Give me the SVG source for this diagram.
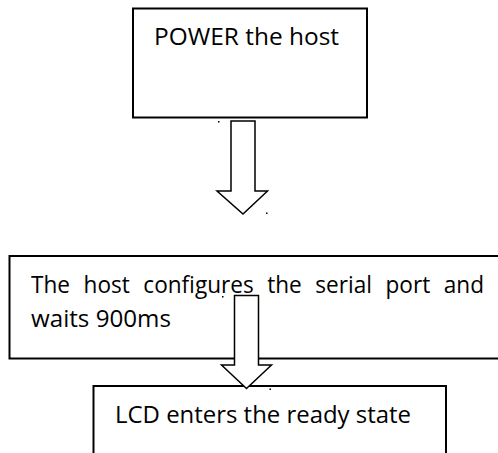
<svg xmlns="http://www.w3.org/2000/svg" width="498" height="453" viewBox="0 0 498 453">
<style>
.box{fill:#fff;stroke:#000;stroke-width:2}
.arr{fill:#fff;stroke:#000;stroke-width:1.5;stroke-linejoin:miter}
.t{font-family:"Open Sans","Liberation Sans",sans-serif;font-size:23.5px;fill:#000}
.dot{fill:#000}
</style>
<rect width="498" height="453" fill="#fff"/>
<g id="node-power">
<rect class="box" x="133" y="8.5" width="234" height="109"/>
<text class="t" x="154" y="45" textLength="185" lengthAdjust="spacingAndGlyphs">POWER the host</text>
</g>
<g id="node-configure">
<rect class="box" x="9.5" y="256" width="500" height="102.5"/>
<text class="t" x="31" y="293" word-spacing="8" textLength="453" lengthAdjust="spacingAndGlyphs">The host configures the serial port and</text>
<text class="t" x="31" y="327" textLength="140" lengthAdjust="spacingAndGlyphs">waits 900ms</text>
</g>
<g id="node-lcd">
<rect class="box" x="93.5" y="386" width="352.5" height="80"/>
<text class="t" x="115" y="423" textLength="296" lengthAdjust="spacingAndGlyphs">LCD enters the ready state</text>
</g>
<g id="connectors">
<polygon class="arr" points="231,121 255,121 255,191 267.5,191 243,214 217,191 231,191"/>
<polygon class="arr" points="234.5,295.5 258.5,295.5 258.5,365 271.5,365 246.5,388.5 221.5,365 234.5,365"/>
</g>
<rect class="dot" x="218" y="121" width="1.5" height="1.5"/>
<rect class="dot" x="266" y="212.5" width="1.5" height="1.5"/>
<rect class="dot" x="222" y="296" width="1.5" height="1.5"/>
<rect class="dot" x="269.5" y="388.5" width="1.5" height="1.5"/>
</svg>
